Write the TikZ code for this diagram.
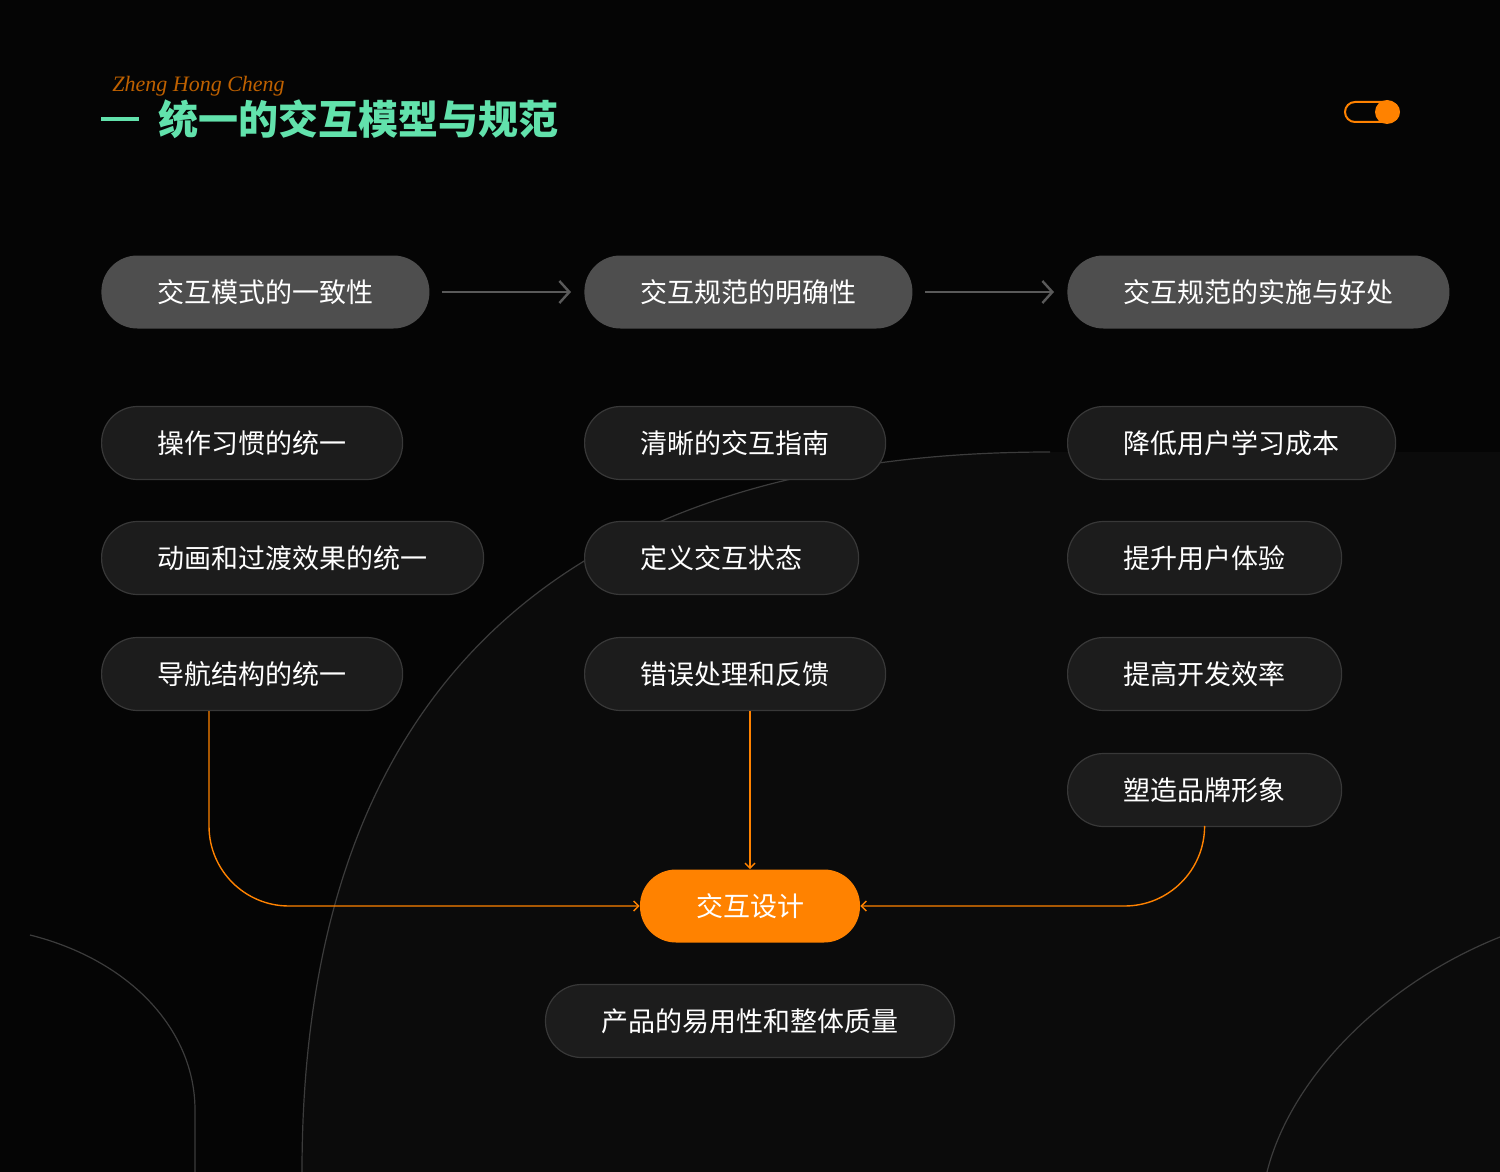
\documentclass[tikz,border=0pt]{standalone}
\usepackage{fontspec}
\usepackage{xcolor}
\setmainfont{Noto Sans CJK SC}
\newfontfamily\signfont{Liberation Serif}
\usetikzlibrary{arrows.meta}

\definecolor{bgdark}{HTML}{050505}
\definecolor{archfill}{HTML}{0B0B0B}
\definecolor{archline}{HTML}{3C3C3C}
\definecolor{headgray}{HTML}{4E4E4E}
\definecolor{itemgray}{HTML}{1C1C1C}
\definecolor{itemline}{HTML}{383838}
\definecolor{arrowgray}{HTML}{5A5A5A}
\definecolor{accent}{HTML}{FF8200}
\definecolor{mint}{HTML}{62E2AC}

\tikzset{
  headbox/.style={fill=headgray, rounded corners=18pt, minimum height=36.5pt, inner xsep=28pt, inner ysep=0pt, text=white, font=\fontsize{13.5pt}{16pt}\selectfont, anchor=west},
  itembox/.style={headbox, fill=itemgray, draw=itemline, line width=0.6pt},
  keybox/.style={headbox, fill=accent, draw=none, anchor=center},
  flowarrow/.style={draw=arrowgray, line width=1.2pt, -{Straight Barb[length=5pt,width=11pt]}, shorten <=6pt, shorten >=6.5pt},
  linkarrow/.style={draw=accent, line width=0.7pt, -{Straight Barb[length=2.5pt,width=5pt]}, rounded corners=40pt},
}

\begin{document}
\begin{tikzpicture}[x=0.5pt, y=-0.5pt]
\fill[bgdark] (0,0) rectangle (1500,1172);
\useasboundingbox (0,0) rectangle (1500,1172);

% background arcs
\fill[archfill] (302,1172) .. controls (302,700) and (550,452) .. (1050,452) -- (1500,452) -- (1500,1172) -- cycle;
\draw[archline, line width=0.6pt] (302,1172) .. controls (302,700) and (550,452) .. (1050,452);
\draw[archline, line width=0.6pt] (30,935) .. controls (130,960) and (195,1030) .. (195,1110) -- (195,1172);
\draw[archline, line width=0.6pt] (1500,937) .. controls (1380,985) and (1290,1080) .. (1267,1172);

% title
\node[anchor=base west, inner sep=0pt, text=accent!75!black, font=\signfont\itshape\fontsize{11pt}{13pt}\selectfont] (sign) at (112,92) {Zheng Hong Cheng};
\node[anchor=base west, inner sep=0pt, text=mint, font=\bfseries\fontsize{20pt}{24pt}\selectfont] (title) at (101,134) {\rule[6.6pt]{19pt}{2pt}\hspace{9.5pt}统一的交互模型与规范};

% toggle
\draw[accent, line width=1pt, rounded corners=5pt] (1345,102) rectangle (1399,122);
\fill[accent] (1387,112) circle (6pt);

% top row
\node[headbox] (mode) at (101,292) {交互模式的一致性};
\node[headbox] (clear) at (584,292) {交互规范的明确性};
\node[headbox] (benefit) at (1067,292) {交互规范的实施与好处};
\draw[flowarrow] (mode) -- (clear);
\draw[flowarrow] (clear) -- (benefit);

% left column
\node[itembox] (habit) at (101,443) {操作习惯的统一};
\node[itembox] (motion) at (101,558) {动画和过渡效果的统一};
\node[itembox] (nav) at (101,674) {导航结构的统一};

% middle column
\node[itembox] (guide) at (584,443) {清晰的交互指南};
\node[itembox] (state) at (584,558) {定义交互状态};
\node[itembox] (feedback) at (584,674) {错误处理和反馈};

% right column
\node[itembox] (cost) at (1067,443) {降低用户学习成本};
\node[itembox] (ux) at (1067,558) {提升用户体验};
\node[itembox] (dev) at (1067,674) {提高开发效率};
\node[itembox] (brand) at (1067,790) {塑造品牌形象};

% centre
\node[keybox] (design) at (750,906) {交互设计};
\node[itembox, anchor=center] (quality) at (750,1021) {产品的易用性和整体质量};

\draw[linkarrow] ([xshift=54pt]nav.south west) |- (design.west);
\draw[linkarrow] (design.north |- feedback.south) -- (design.north);
\draw[linkarrow] (brand.south) |- (design.east);
\end{tikzpicture}
\end{document}
